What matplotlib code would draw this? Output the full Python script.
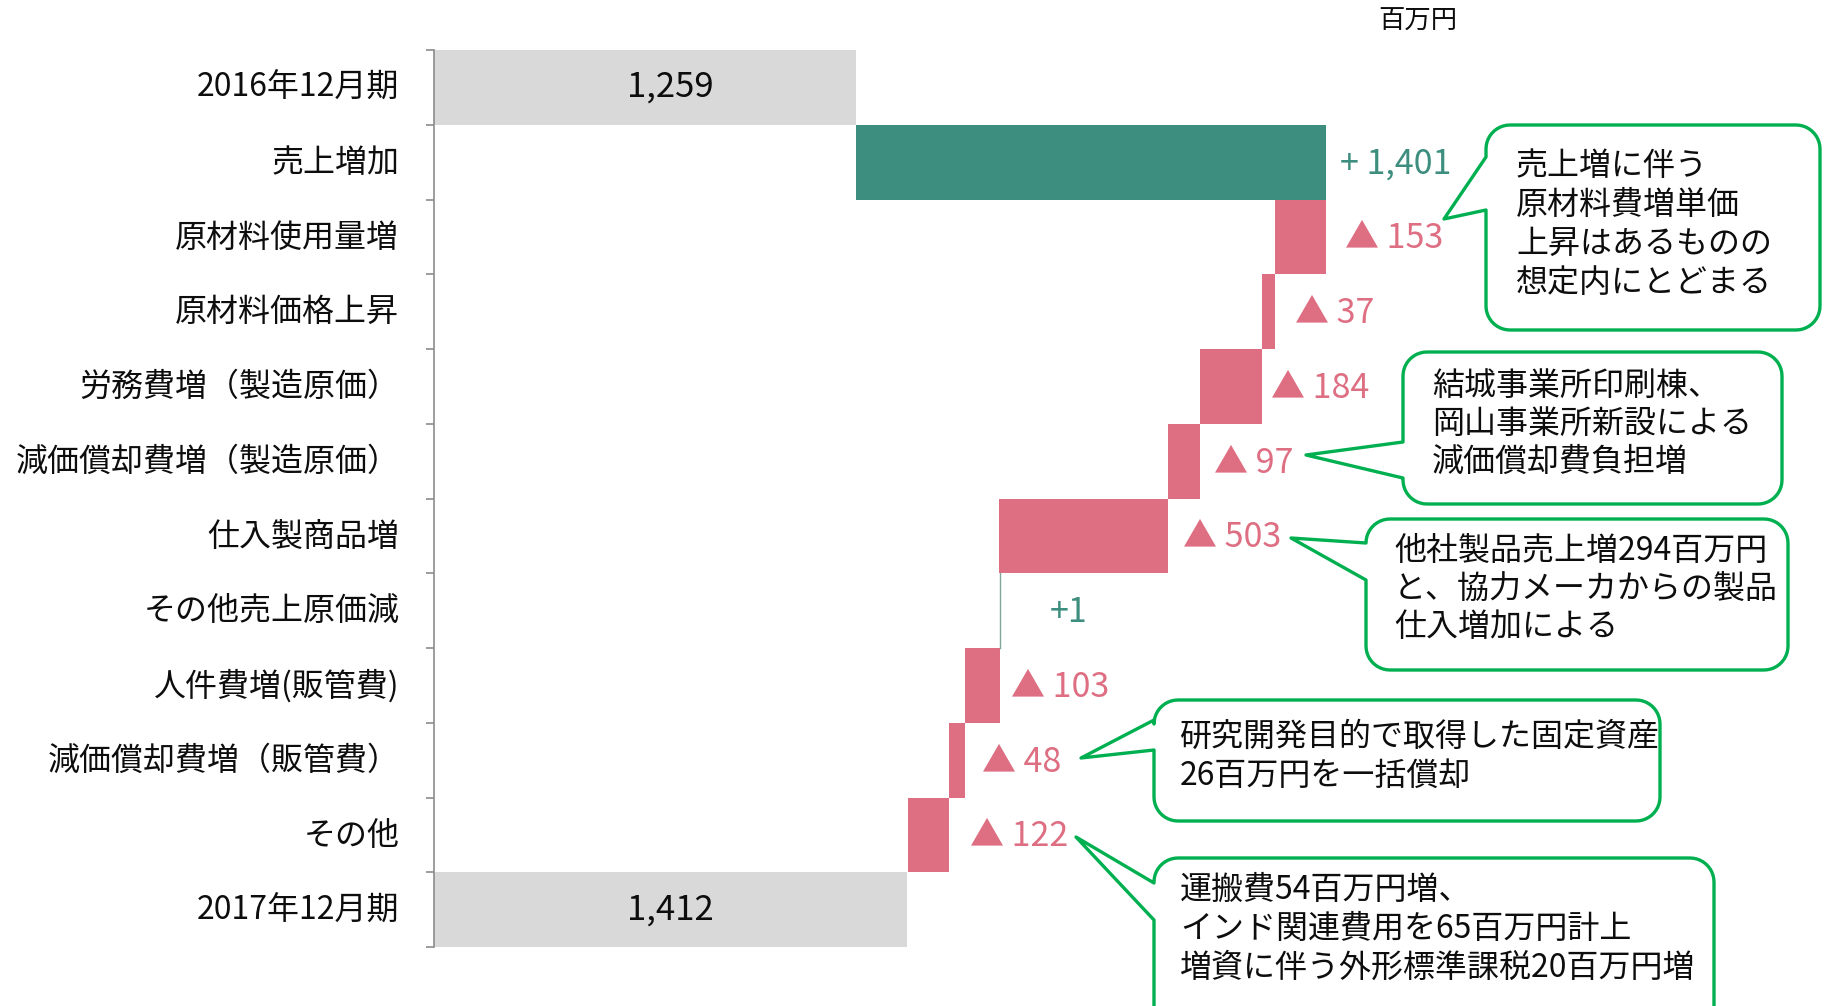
import numpy as np
import matplotlib
matplotlib.use("Agg")
import matplotlib.pyplot as plt
import matplotlib.transforms as mtransforms
from matplotlib.patches import Polygon
from matplotlib.ticker import FixedLocator

plt.rcParams['font.family'] = ['Noto Sans CJK JP', 'DejaVu Sans']

# data
categories = ['2016年12月期', '売上増加', '原材料使用量増', '原材料価格上昇',
              '労務費増（製造原価）', '減価償却費増（製造原価）', '仕入製商品増',
              'その他売上原価減', '人件費増(販管費)', '減価償却費増（販管費）',
              'その他', '2017年12月期']
start_value = 1259
end_value = 1412
deltas = [1401, -153, -37, -184, -97, -503, 1, -103, -48, -122]
delta_labels = ['+ 1,401', '▲ 153', '▲ 37', '▲ 184', '▲ 97', '▲ 503',
                '+1', '▲ 103', '▲ 48', '▲ 122']
total_labels = ['1,259', '1,412']
unit_label = '百万円'

notes = [
    ['売上増に伴う', '原材料費増単価', '上昇はあるものの', '想定内にとどまる'],
    ['結城事業所印刷棟、', '岡山事業所新設による', '減価償却費負担増'],
    ['他社製品売上増294百万円', 'と、協力メーカからの製品', '仕入増加による'],
    ['研究開発目的で取得した固定資産', '26百万円を一括償却'],
    ['運搬費54百万円増、', 'インド関連費用を65百万円計上', '増資に伴う外形標準課税20百万円増'],
]

GREY = '#d9d9d9'
TEAL = '#3d8e7f'
PINK = '#de6e82'
BOX_GREEN = '#00b050'
TXT = '#0d0d0d'

W, H = 1829, 1006
fig = plt.figure(figsize=(W / 100, H / 100), dpi=100)

# overlay in pixel coordinates for the callouts
ov = fig.add_axes([0, 0, 1, 1])
ov.set_xlim(0, W)
ov.set_ylim(H, 0)
ov.axis('off')

ax = fig.add_axes([434 / W, 1 - 947 / H, 1 - 434 / W, (947 - 50) / H])
ax.set_facecolor('none')

n = len(categories)
ys = np.arange(n)

# totals
ax.barh(0, start_value, height=1.0, color=GREY, linewidth=0)
ax.barh(n - 1, end_value, height=1.0, color=GREY, linewidth=0)
label_x = end_value / 2
ax.text(label_x, 0, total_labels[0], ha='center', va='center', fontsize=25, color=TXT)
ax.text(label_x, n - 1, total_labels[1], ha='center', va='center', fontsize=25, color=TXT)

# steps
pads = [10, 14, 15, 6, 10, 11, 36, 8, 12, 15]
running = start_value
for i, d in enumerate(deltas):
    row = i + 1
    if d >= 0:
        left = running
        running += d
        col = TEAL
    else:
        running += d
        left = running
        col = PINK
    width = abs(d)
    if width < 5:
        ax.plot([left + width, left + width], [row - 0.5, row + 0.5], color='#7fa59c', lw=1.0)
    else:
        ax.barh(row, width, left=left, height=1.0, color=col, linewidth=0)
    ax.annotate(delta_labels[i], (left + width, row), xytext=(pads[i], -1.5),
                textcoords='offset points', ha='left', va='center',
                fontsize=24.5, color=col)

ax.set_ylim(n - 0.5, -0.5)
ax.set_xlim(0, (W - 434) / 0.3353)
ax.set_yticks(ys)
ax.set_yticklabels(categories, fontsize=23, color=TXT)
ax.tick_params(axis='y', which='major', length=0, pad=25)
shift = mtransforms.ScaledTranslation(0, 2 / 72, fig.dpi_scale_trans)
for lab in ax.get_yticklabels():
    lab.set_transform(lab.get_transform() + shift)
ax.yaxis.set_minor_locator(FixedLocator(np.arange(-0.5, n, 1.0)))
ax.tick_params(axis='y', which='minor', length=6, width=1.2, color='#8c8c8c')
ax.set_xticks([])
for s in ['top', 'right', 'bottom']:
    ax.spines[s].set_visible(False)
ax.spines['left'].set_color('#8c8c8c')
ax.spines['left'].set_linewidth(1.2)

fig.text(1418 / W, 1 - 21 / H, unit_label, ha='center', va='center', fontsize=19, color=TXT)


def callout(x0, y0, x1, y1, tip, base, r=24):
    pts = []
    corners = [((x0 + r, y0 + r), 180, 270), ((x1 - r, y0 + r), 270, 360),
               ((x1 - r, y1 - r), 0, 90), ((x0 + r, y1 - r), 90, 180)]
    for (cx, cy), a0, a1 in corners:
        a = np.radians(np.linspace(a0, a1, 12))
        pts += list(zip(cx + r * np.cos(a), cy + r * np.sin(a)))
    pts += [(x0, base[1]), tip, (x0, base[0])]
    return Polygon(pts, closed=True, facecolor='white', edgecolor=BOX_GREEN,
                   linewidth=2.4, joinstyle='round')


boxes = [
    ((1486, 125, 1820, 330), (1444, 219), (157, 210), (1516, 166, 39)),
    ((1403, 352, 1782, 504), (1306, 455), (442, 478), (1432, 386, 38)),
    ((1366, 519, 1788, 670), (1291, 538), (543, 580), (1394, 551, 38)),
    ((1154, 700, 1660, 821), (1081, 758), (720, 750), (1180, 737, 39)),
    ((1154, 858, 1714, 1040), (1076, 837), (883, 920), (1180, 890, 39)),
]
for (rect, tip, base, (tx, ty, sp)), lines in zip(boxes, notes):
    ov.add_patch(callout(*rect, tip, base))
    for k, line in enumerate(lines):
        ov.text(tx, ty + k * sp, line, ha='left', va='center', fontsize=23, color=TXT)

fig.savefig('out.png', dpi=100)
